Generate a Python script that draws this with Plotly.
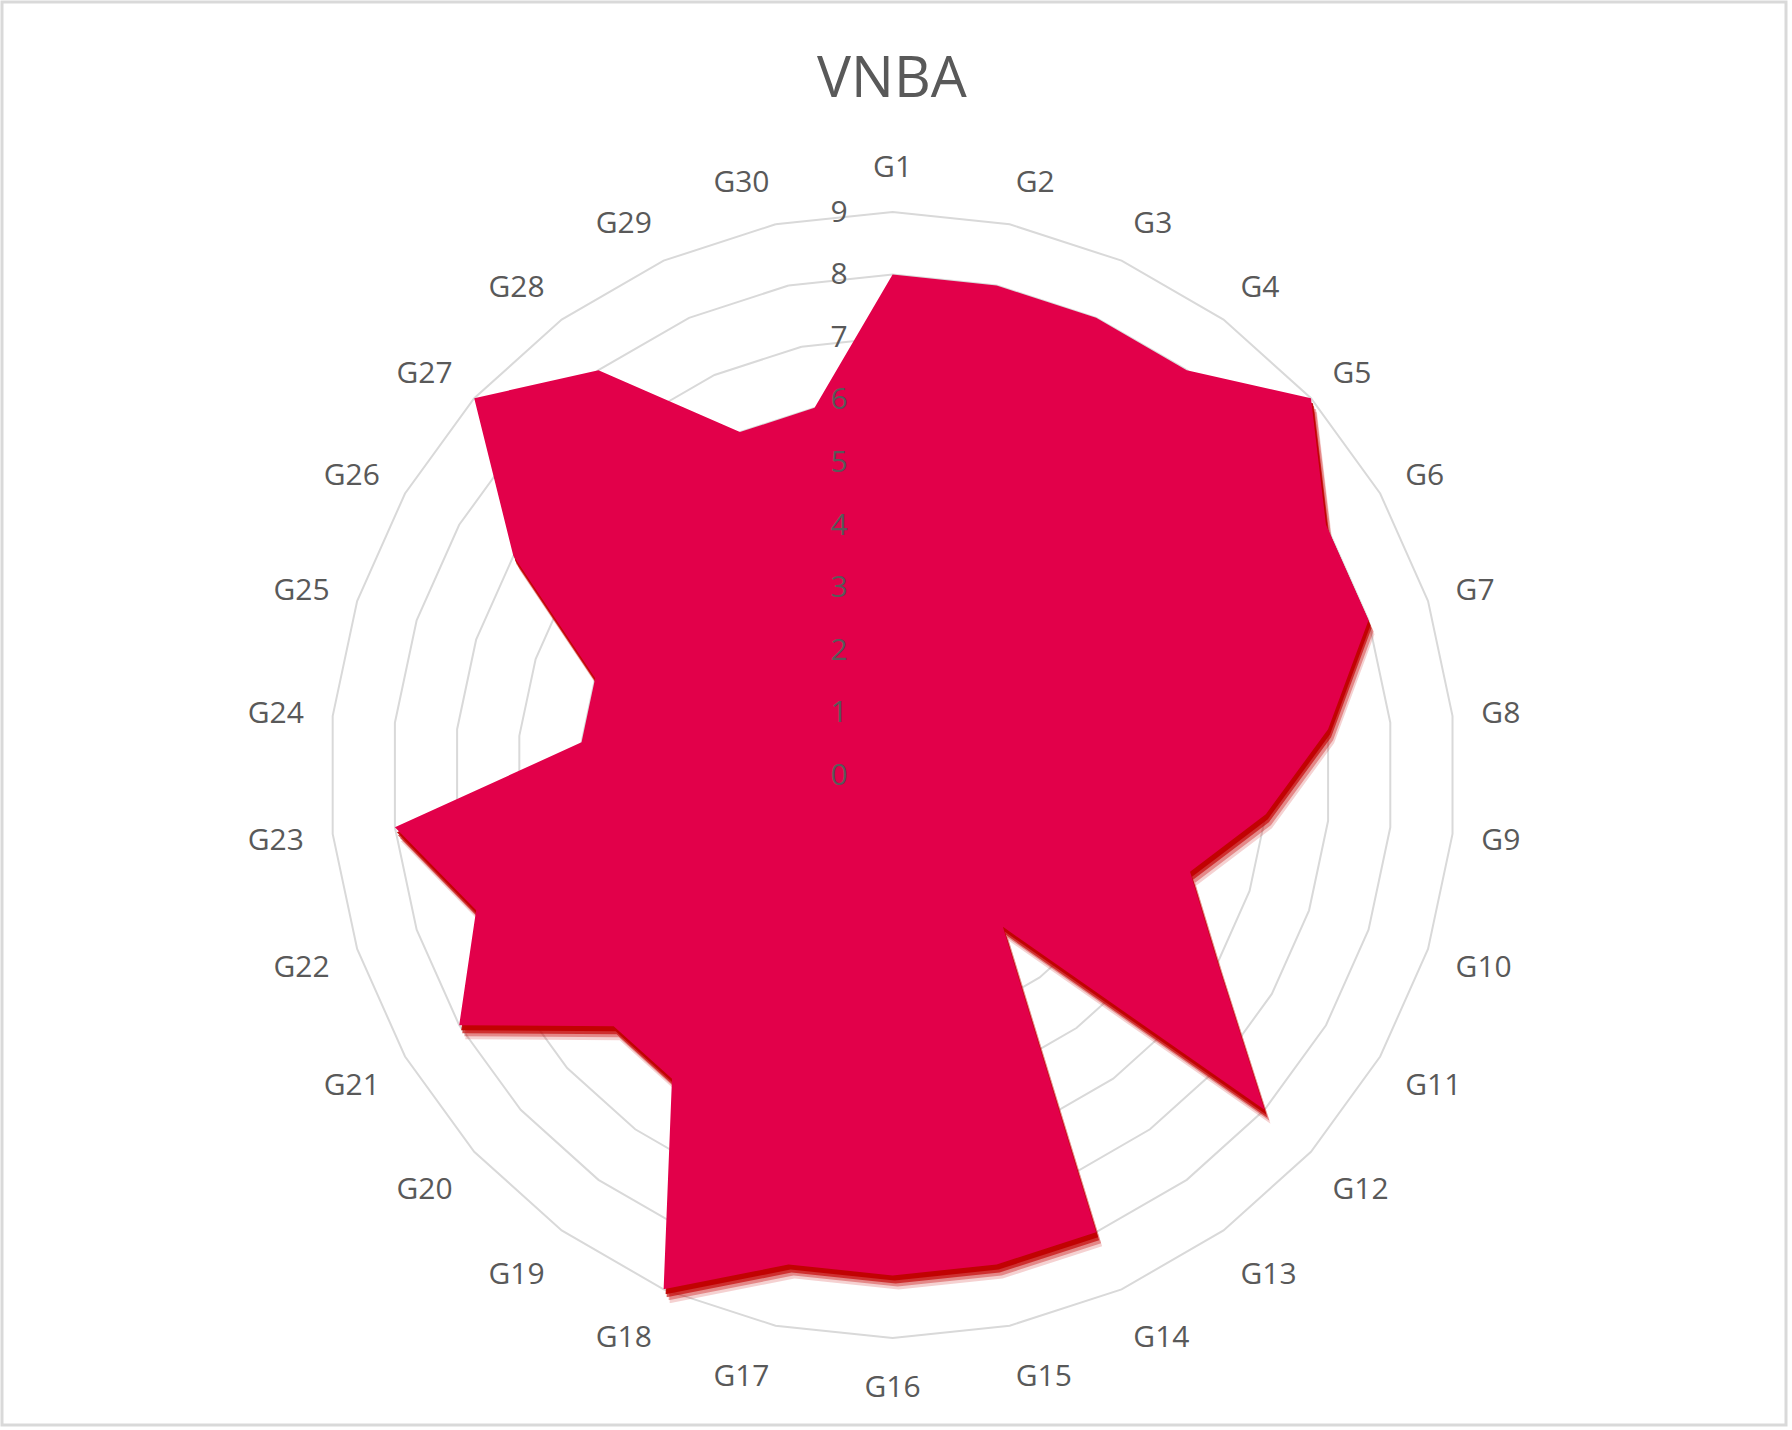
import plotly.graph_objects as go

categories = [f"G{i}" for i in range(1, 31)]
values = [8, 8, 8, 8, 9, 8, 8, 7, 6, 5, 6, 8, 3, 8, 8, 8, 8, 9, 6, 6, 8, 7, 8, 5, 5, 7, 9, 8, 6, 6]
radial_ticks = list(range(0, 10))
title_text = "VNBA"

W, H = 1792, 1430
cx, cy, R = 892.6, 775.0, 563.0
FILL = "#E2004A"
GRID = "#D9D9D9"
TXT = "#595959"
FONT = "Open Sans"


def dom(dx=0.0, dy=0.0):
    x0 = (cx - R + dx) / W
    x1 = (cx + R + dx) / W
    y0 = 1 - (cy + R + dy) / H
    y1 = 1 - (cy - R + dy) / H
    return dict(x=[x0, x1], y=[y0, y1])


fig = go.Figure()

# grid layer (invisible trace)
fig.add_trace(go.Scatterpolar(r=values, theta=categories, mode="lines",
                              line=dict(color="rgba(0,0,0,0)", width=0),
                              hoverinfo="skip", showlegend=False, subplot="polar"))
# shadows (soft, offset downwards)
shadow_layers = [("polar2", (6, 14), "rgba(200,0,0,0.18)"),
                 ("polar3", (5, 11), "rgba(198,0,0,0.35)"),
                 ("polar4", (3, 8), "rgba(195,0,0,0.65)"),
                 ("polar5", (2, 5), "rgba(192,0,0,0.95)")]
for sp, _, col in shadow_layers:
    fig.add_trace(go.Scatterpolar(r=values, theta=categories, mode="lines", fill="toself",
                                  fillcolor=col, line=dict(width=0, color="rgba(0,0,0,0)"),
                                  hoverinfo="skip", showlegend=False, subplot=sp))
# main fill
fig.add_trace(go.Scatterpolar(r=values, theta=categories, mode="lines", fill="toself",
                              fillcolor=FILL, line=dict(width=0, color=FILL),
                              showlegend=False, subplot="polar6"))

hidden_radial = dict(range=[0, 9], showgrid=False, showline=False, showticklabels=False, ticks="")
hidden_angular = dict(direction="clockwise", rotation=90, showgrid=False, showline=False,
                      showticklabels=False, ticks="", categoryarray=categories, categoryorder="array")

layout = dict(
    width=W, height=H,
    margin=dict(l=0, r=0, t=0, b=0),
    paper_bgcolor="white",
    font=dict(family=FONT, color=TXT),
    title=dict(text=title_text, x=892 / W, y=1 - 77 / H, xanchor="center", yanchor="middle",
               font=dict(size=57, color=TXT, family=FONT)),
    polar=dict(
        domain=dom(), bgcolor="rgba(0,0,0,0)", gridshape="linear",
        radialaxis=dict(range=[0, 9], dtick=1, showgrid=True, gridcolor=GRID, gridwidth=2,
                        showline=False, showticklabels=False, ticks=""),
        angularaxis=dict(direction="clockwise", rotation=90, showgrid=False, showline=True,
                         linecolor=GRID, linewidth=2, ticks="outside", ticklen=22,
                         tickcolor="rgba(0,0,0,0)", categoryarray=categories, categoryorder="array",
                         tickfont=dict(size=30, color=TXT, family=FONT)),
    ),
    polar6=dict(
        domain=dom(), bgcolor="rgba(0,0,0,0)", gridshape="linear",
        radialaxis=dict(range=[0, 9], tickvals=radial_ticks, showgrid=False, showline=False,
                        angle=90, side="counterclockwise", ticks="outside", ticklen=34,
                        tickcolor="rgba(0,0,0,0)", tickangle=90,
                        tickfont=dict(size=30, color=TXT, family=FONT)),
        angularaxis=hidden_angular,
    ),
    shapes=[dict(type="rect", xref="paper", yref="paper", x0=2 / W, x1=1 - 6 / W,
                 y0=5 / H, y1=1 - 2 / H, line=dict(color=GRID, width=3))],
)
for sp, (dx, dy), _ in shadow_layers:
    layout[sp] = dict(domain=dom(dx, dy), bgcolor="rgba(0,0,0,0)", gridshape="linear",
                      radialaxis=hidden_radial, angularaxis=hidden_angular)

fig.update_layout(**layout)

fig.write_html("out.html", config={"displayModeBar": False},
               post_script="document.body.style.margin='0';")
